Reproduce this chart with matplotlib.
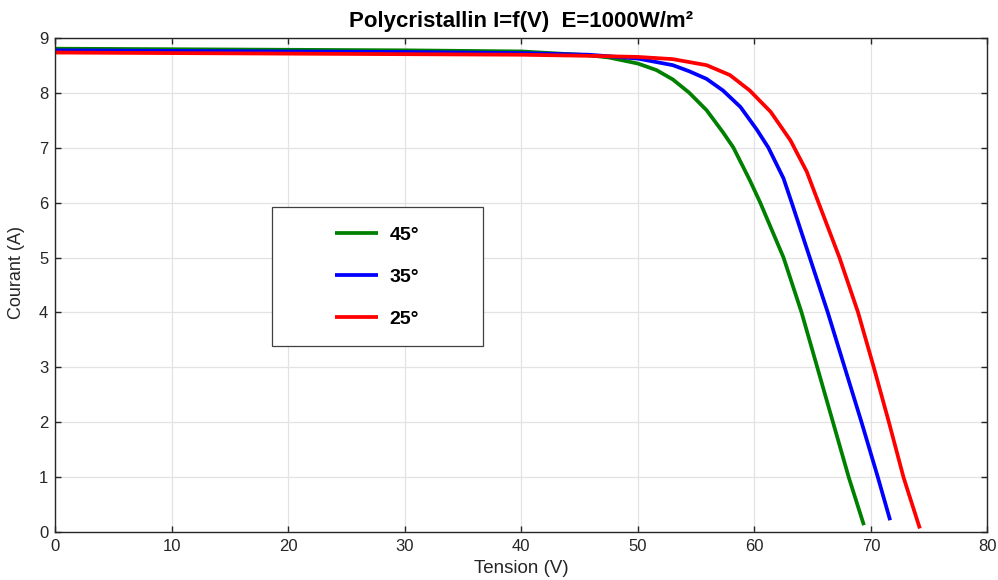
import matplotlib
matplotlib.use('Agg')
import matplotlib.pyplot as plt
from matplotlib.patches import Rectangle

plt.rcParams['font.family'] = ['Liberation Sans', 'DejaVu Sans']

# courbes I=f(V)
v_45 = [0, 10, 20, 30, 40, 45.8, 47.5, 50, 51.6, 53.0, 54.4, 55.9, 57.3, 58.2, 59.6, 60.5,
        62.5, 64.05, 65.4, 66.75, 68.1, 69.4]
i_45 = [8.80, 8.79, 8.78, 8.77, 8.75, 8.68, 8.64, 8.53, 8.41, 8.24, 8.0, 7.68, 7.28, 7.0, 6.41, 6.0,
        5.0, 4.0, 3.0, 2.0, 1.0, 0.13]

v_35 = [0, 10, 20, 30, 40, 45.8, 50, 53.0, 54.4, 55.9, 57.3, 58.8, 60.2, 61.2, 62.5, 63.2,
        64.75, 66.3, 67.75, 69.2, 70.6, 71.65]
i_35 = [8.77, 8.76, 8.75, 8.74, 8.72, 8.69, 8.62, 8.50, 8.39, 8.25, 8.04, 7.74, 7.33, 7.0, 6.44, 6.0,
        5.0, 4.0, 3.0, 2.0, 1.0, 0.22]

v_25 = [0, 10, 20, 30, 40, 45.8, 50, 53.0, 55.9, 57.9, 59.6, 61.4, 63.1, 64.5, 65.5,
        67.3, 68.9, 70.25, 71.55, 72.8, 74.2]
i_25 = [8.73, 8.72, 8.71, 8.70, 8.69, 8.67, 8.65, 8.61, 8.50, 8.32, 8.04, 7.65, 7.13, 6.56, 6.0,
        5.0, 4.0, 3.0, 2.0, 1.0, 0.07]

labels = ['45°', '35°', '25°']
colors = ['#008000', '#0000ff', '#ff0000']

fig = plt.figure(figsize=(9.98, 5.8), dpi=100)
ax = fig.add_axes([0.0554, 0.0822, 0.934, 0.8528])

for v, i, lab, c in zip([v_45, v_35, v_25], [i_45, i_35, i_25], labels, colors):
    ax.plot(v, i, color=c, lw=2.7, label=lab, solid_capstyle='butt', solid_joinstyle='round')

ax.set_xlim(0, 80)
ax.set_ylim(0, 9)
ax.set_xticks(range(0, 81, 10))
ax.set_yticks(range(0, 10))
ax.grid(True, color='#e3e3e3', lw=0.9)
ax.set_axisbelow(True)
ax.tick_params(direction='in', top=True, right=True, length=4, width=1,
               labelsize=12, colors='#262626', pad=5)
for s in ax.spines.values():
    s.set_color('#262626')
    s.set_linewidth(1)

ax.set_xlabel('Tension (V)', fontsize=13.5, color='#262626', labelpad=4)
ax.set_ylabel('Courant (A)', fontsize=13, color='#262626',
              family=['Liberation Sans Narrow', 'Liberation Sans', 'DejaVu Sans'])
ax.yaxis.set_label_coords(-0.032, 0.525)
ax.set_title('Polycristallin I=f(V)  E=1000W/m²', fontsize=16, fontweight='bold', pad=8)

# cadre de la légende
ax.add_patch(Rectangle((0.232, 0.376), 0.227, 0.281, transform=ax.transAxes,
                       facecolor='white', edgecolor='#404040', lw=0.9, zorder=4))
leg = ax.legend(loc='center', bbox_to_anchor=(0.3455, 0.5165), frameon=False,
                prop={'weight': 'bold', 'size': 14}, handlelength=2.2,
                handletextpad=0.6, labelspacing=1.25)
leg.set_zorder(5)

fig.savefig('out.png', dpi=100)
